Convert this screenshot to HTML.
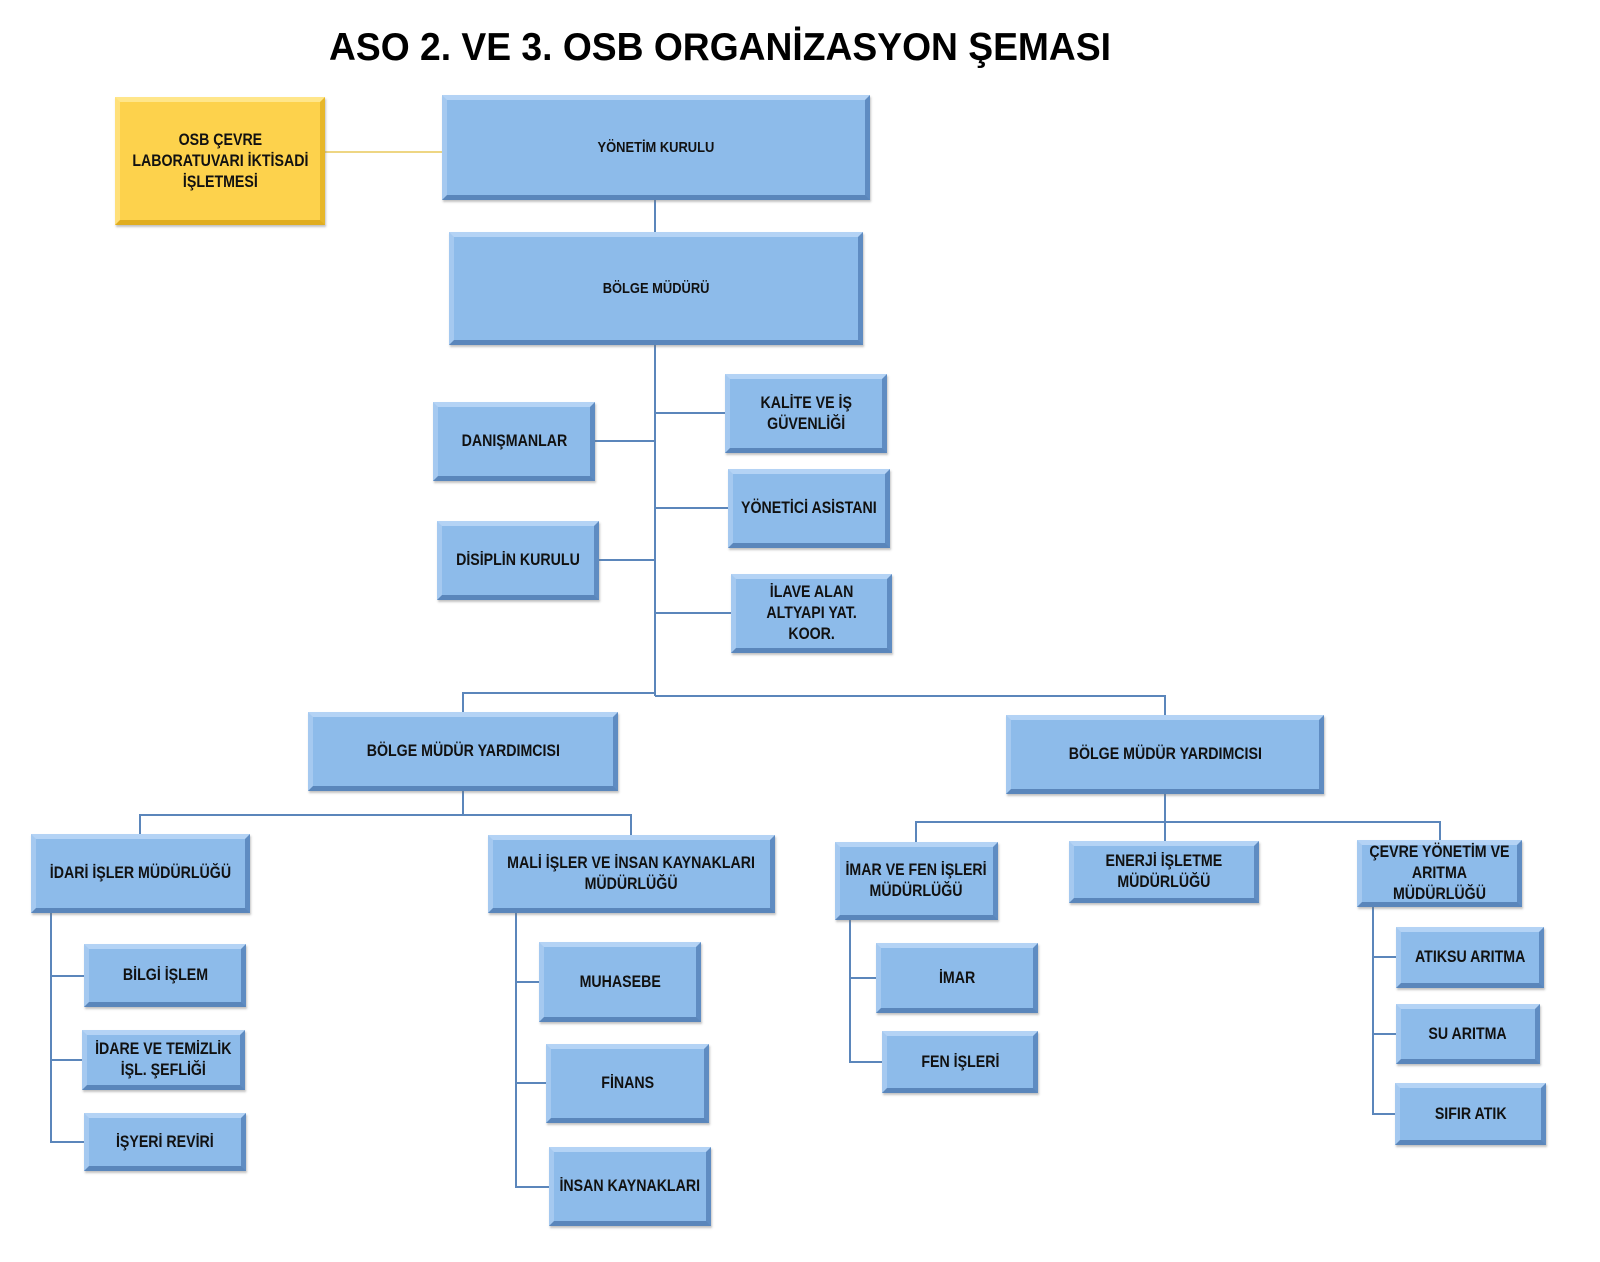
<!DOCTYPE html>
<html><head><meta charset="utf-8">
<style>
body{margin:0;width:1600px;height:1262px;background:#fff;position:relative;overflow:hidden;font-family:"Liberation Sans","DejaVu Sans",sans-serif;}
.b{position:absolute;box-sizing:border-box;background:#8dbbea;border-style:solid;border-width:5px;border-color:#b4d3f5 #5f8cc2 #5a86bb #a5c9f0;box-shadow:1px 2px 2px rgba(120,120,120,.45);display:flex;align-items:center;justify-content:center;text-align:center;color:#111;font-weight:bold;font-size:16.5px;line-height:21px;overflow:visible;}
.b span{display:inline-block;transform:scaleX(.86);white-space:nowrap;}
.y{background:#fdd24c;border-color:#ffe68a #e7b72a #e0ad20 #ffe07a;}
.sm{font-size:15px;}
</style></head><body>
<svg width="1600" height="1262" style="position:absolute;left:0;top:0">
<text x="720" y="60" text-anchor="middle" font-family="Liberation Sans" font-weight="bold" font-size="39" textLength="782" lengthAdjust="spacingAndGlyphs" fill="#000">ASO 2. VE 3. OSB ORGANİZASYON ŞEMASI</text>
<line x1="325" y1="152" x2="442" y2="152" stroke="#e8c85a" stroke-width="1.5"/>
<g stroke="#5b86bb" stroke-width="2" fill="none">
<path d="M655 200V232M655 345V696M655 413H725M655 508H728M655 613H731M595 441H655M599 560H655"/>
<path d="M463 712V693H655M655 696H1165V715"/>
<path d="M463 791V815M140 834V815H631V835"/>
<path d="M51 913V1142H84M51 976H84M51 1060H82"/>
<path d="M516 913V1187H549M516 982H539M516 1083H546"/>
<path d="M1165 794V841M916 842V822H1440V840"/>
<path d="M850 920V1062H882M850 978H876"/>
<path d="M1373 907V1114H1395M1373 957H1396M1373 1034H1396"/>
</g>
</svg>
<div class="b y" style="left:115px;top:97px;width:210px;height:128px"><span>OSB ÇEVRE<br>LABORATUVARI İKTİSADİ<br>İŞLETMESİ</span></div>
<div class="b sm" style="left:442px;top:95px;width:428px;height:105px"><span>YÖNETİM KURULU</span></div>
<div class="b sm" style="left:449px;top:232px;width:414px;height:113px"><span>BÖLGE MÜDÜRÜ</span></div>
<div class="b" style="left:433px;top:402px;width:162px;height:79px"><span>DANIŞMANLAR</span></div>
<div class="b" style="left:437px;top:521px;width:162px;height:79px"><span>DİSİPLİN KURULU</span></div>
<div class="b" style="left:725px;top:374px;width:162px;height:79px"><span>KALİTE VE İŞ<br>GÜVENLİĞİ</span></div>
<div class="b" style="left:728px;top:469px;width:162px;height:79px"><span>YÖNETİCİ ASİSTANI</span></div>
<div class="b" style="left:731px;top:574px;width:161px;height:79px"><span>İLAVE ALAN<br>ALTYAPI YAT.<br>KOOR.</span></div>
<div class="b" style="left:308px;top:712px;width:310px;height:79px"><span>BÖLGE MÜDÜR YARDIMCISI</span></div>
<div class="b" style="left:1006px;top:715px;width:318px;height:79px"><span>BÖLGE MÜDÜR YARDIMCISI</span></div>
<div class="b" style="left:31px;top:834px;width:219px;height:79px"><span>İDARİ İŞLER MÜDÜRLÜĞÜ</span></div>
<div class="b" style="left:488px;top:835px;width:287px;height:78px"><span>MALİ İŞLER VE İNSAN KAYNAKLARI<br>MÜDÜRLÜĞÜ</span></div>
<div class="b" style="left:84px;top:944px;width:162px;height:63px"><span>BİLGİ İŞLEM</span></div>
<div class="b" style="left:82px;top:1030px;width:163px;height:60px"><span>İDARE VE TEMİZLİK<br>İŞL. ŞEFLİĞİ</span></div>
<div class="b" style="left:84px;top:1113px;width:162px;height:58px"><span>İŞYERİ REVİRİ</span></div>
<div class="b" style="left:539px;top:942px;width:162px;height:80px"><span>MUHASEBE</span></div>
<div class="b" style="left:546px;top:1044px;width:163px;height:79px"><span>FİNANS</span></div>
<div class="b" style="left:549px;top:1147px;width:162px;height:79px"><span>İNSAN KAYNAKLARI</span></div>
<div class="b" style="left:835px;top:842px;width:163px;height:78px"><span>İMAR VE FEN İŞLERİ<br>MÜDÜRLÜĞÜ</span></div>
<div class="b" style="left:1069px;top:841px;width:190px;height:62px"><span>ENERJİ İŞLETME<br>MÜDÜRLÜĞÜ</span></div>
<div class="b" style="left:1357px;top:840px;width:165px;height:67px"><span>ÇEVRE YÖNETİM VE<br>ARITMA<br>MÜDÜRLÜĞÜ</span></div>
<div class="b" style="left:876px;top:943px;width:162px;height:70px"><span>İMAR</span></div>
<div class="b" style="left:882px;top:1031px;width:156px;height:62px"><span>FEN İŞLERİ</span></div>
<div class="b" style="left:1396px;top:927px;width:148px;height:61px"><span>ATIKSU ARITMA</span></div>
<div class="b" style="left:1396px;top:1004px;width:144px;height:60px"><span>SU ARITMA</span></div>
<div class="b" style="left:1395px;top:1083px;width:151px;height:62px"><span>SIFIR ATIK</span></div>
</body></html>
